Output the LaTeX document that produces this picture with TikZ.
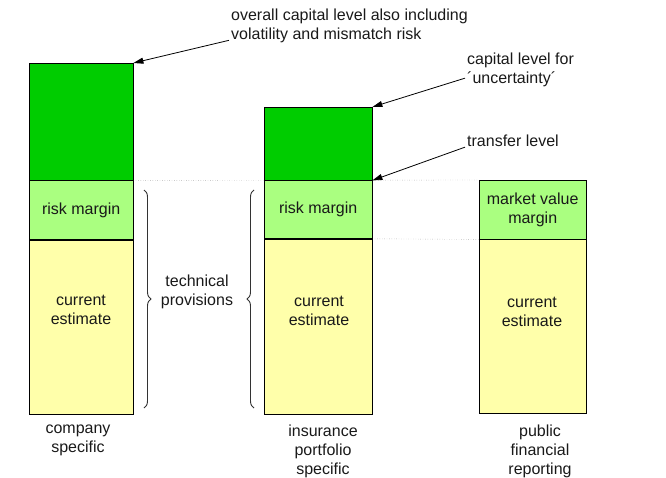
\documentclass[tikz,border=0pt]{standalone}
\usepackage{fontspec}
\setmainfont{Liberation Sans}
\usetikzlibrary{arrows.meta,positioning,decorations.pathreplacing,backgrounds}
\definecolor{capgreen}{RGB}{0,204,0}
\definecolor{margingreen}{RGB}{170,255,128}
\definecolor{estyellow}{RGB}{255,255,170}
\definecolor{inkgray}{RGB}{25,25,25}

\begin{document}
\begin{tikzpicture}[
    x=1pt, y=-1pt,
    >={Triangle[length=10pt,width=6pt]},
    font=\fontsize{16}{19}\selectfont,
    text=inkgray,
    seg/.style={
        rectangle,
        draw=black,
        inner sep=0pt,
        align=center
    },
    lbl/.style={
        align=center,
        inner sep=0pt
    },
    note/.style={
        align=left,
        anchor=north west,
        inner sep=2pt
    },
    level/.style={draw=gray, dotted},
    brc/.style={draw=gray!40!black, line width=0.9pt, decorate, decoration={brace, amplitude=7pt}}
]
\useasboundingbox (0,0) rectangle (666,478);

% Company bar
\node[seg, anchor=north west, fill=capgreen, minimum width=104pt, minimum height=117pt] (cap1) at (29,63) {};
\node[seg, fill=margingreen, minimum width=104pt, minimum height=59pt, below=0pt of cap1] (risk1) {risk margin};
\node[seg, fill=estyellow, minimum width=104pt, minimum height=174pt, below=0pt of risk1] (est1) {};
\draw[thick] (risk1.south west) -- (risk1.south east);

% Insurance portfolio bar
\node[seg, anchor=north west, fill=capgreen, minimum width=108pt, minimum height=73pt] (cap2) at (264,107) {};
\node[seg, fill=margingreen, minimum width=108pt, minimum height=58pt, below=0pt of cap2] (risk2) {risk margin};
\node[seg, fill=estyellow, minimum width=108pt, minimum height=175pt, below=0pt of risk2] (est2) {};

% Financial reporting bar
\node[seg, anchor=north west, fill=margingreen, minimum width=107pt, minimum height=59pt] (mvm3) at (479,180) {market value\\margin};
\node[seg, fill=estyellow, minimum width=107pt, minimum height=174pt, below=0pt of mvm3] (est3) {};

% Estimates
\node[lbl] (estlbl1) at (81,310) {current\\estimate};
\node[lbl] (estlbl2) at (319,311) {current\\estimate};
\node[lbl] (estlbl3) at (532,312) {current\\estimate};

% Level lines
\begin{scope}[on background layer]
\draw[level] (risk1.north east) -- (mvm3.north west);
\draw[level] (risk2.south east) -- (mvm3.south west);
\end{scope}

% Braces
\draw[brc] (144,190) -- (144,408);
\draw[brc] (254,408) -- (254,190);
\node[lbl] (techprov) at (197,292) {technical\\provisions};

% Annotations
\node[note] (overall) at (229,7) {overall capital level also including\\volatility and mismatch risk};
\node[note] (uncert) at (465,51) {capital level for\\´uncertainty´};
\node[note] (transfer) at (465,133) {transfer level};
\draw[->, thick] ([yshift=5pt]overall.south west) -- (cap1.north east);
\draw[->, thick] ([yshift=-8pt]uncert.west) -- (cap2.north east);
\draw[->, thick] ([yshift=2pt]transfer.south west) -- (cap2.south east);

% Bottom labels
\node[lbl, anchor=north] (company) at (78,425) {company\\specific};
\node[lbl, anchor=north] (portfolio) at (323,425) {insurance\\portfolio\\specific};
\node[lbl, anchor=north] (public) at (540,425) {public\\financial\\reporting};

\end{tikzpicture}
\end{document}
